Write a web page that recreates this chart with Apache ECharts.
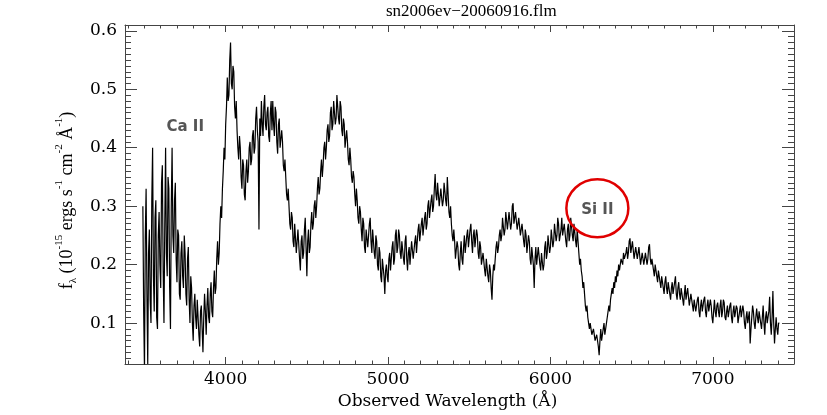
<!DOCTYPE html>
<html>
<head>
<meta charset="utf-8">
<script src="https://cdn.jsdelivr.net/npm/echarts@6/dist/echarts.min.js"></script>
<style>
html,body{margin:0;padding:0;background:#fff;}
#chart{width:827px;height:415px;}
</style>
</head>
<body>
<div id="chart"></div>
<script>
// Spectrum sampling grid (Å)
const lambdaStart = 3490;
const lambdaStep = 5;

// Observed flux (10^-15 erg s^-1 cm^-2 Å^-1), one value per grid step, rows of 100 Å
const flux = [
  0.30, 0.12, 0.02, 0.25, 0.33, 0.15, 0.03, 0.22, 0.26, 0.14, 0.10, 0.31, 0.40, 0.18, 0.12, 0.28, 0.31, 0.11, 0.09, 0.25,
  0.29, 0.20, 0.16, 0.34, 0.37, 0.19, 0.10, 0.27, 0.40, 0.22, 0.18, 0.35, 0.33, 0.16, 0.09, 0.30, 0.40, 0.25, 0.22, 0.31,
  0.34, 0.21, 0.17, 0.26, 0.25, 0.15, 0.14, 0.22, 0.24, 0.18, 0.16, 0.25, 0.22, 0.15, 0.13, 0.21, 0.23, 0.14, 0.10, 0.18,
  0.16, 0.10, 0.07, 0.13, 0.15, 0.11, 0.09, 0.14, 0.14, 0.08, 0.06, 0.12, 0.13, 0.09, 0.05, 0.11, 0.15, 0.12, 0.08, 0.13,
  0.16, 0.11, 0.10, 0.15, 0.17, 0.12, 0.11, 0.16, 0.19, 0.15, 0.16, 0.21, 0.24, 0.20, 0.22, 0.27, 0.30, 0.28, 0.33, 0.36,
  0.40, 0.38, 0.44, 0.47, 0.52, 0.48, 0.49, 0.55, 0.58, 0.51, 0.50, 0.54, 0.53, 0.47, 0.45, 0.48, 0.43, 0.40, 0.38, 0.42,
  0.40, 0.35, 0.33, 0.38, 0.37, 0.32, 0.31, 0.36, 0.38, 0.34, 0.36, 0.40, 0.41, 0.37, 0.38, 0.42, 0.43, 0.39, 0.40, 0.45,
  0.47, 0.43, 0.41, 0.26, 0.45, 0.42, 0.48, 0.44, 0.42, 0.47, 0.49, 0.44, 0.43, 0.46, 0.47, 0.42, 0.41, 0.46, 0.48, 0.43,
  0.48, 0.44, 0.42, 0.47, 0.46, 0.41, 0.39, 0.44, 0.45, 0.40, 0.40, 0.43, 0.41, 0.37, 0.36, 0.38, 0.35, 0.32, 0.31, 0.33,
  0.30, 0.27, 0.26, 0.29, 0.28, 0.24, 0.23, 0.27, 0.27, 0.22, 0.22, 0.26, 0.26, 0.21, 0.19, 0.24, 0.25, 0.21, 0.22, 0.26,
  0.28, 0.23, 0.18, 0.24, 0.26, 0.22, 0.23, 0.27, 0.29, 0.26, 0.27, 0.30, 0.31, 0.28, 0.30, 0.33, 0.35, 0.32, 0.33, 0.36,
  0.38, 0.35, 0.37, 0.40, 0.41, 0.38, 0.40, 0.43, 0.44, 0.41, 0.42, 0.46, 0.47, 0.43, 0.44, 0.48, 0.48, 0.44, 0.45, 0.49,
  0.49, 0.45, 0.44, 0.48, 0.47, 0.43, 0.42, 0.45, 0.44, 0.40, 0.40, 0.43, 0.41, 0.38, 0.37, 0.40, 0.38, 0.35, 0.34, 0.36,
  0.35, 0.32, 0.30, 0.33, 0.31, 0.28, 0.27, 0.30, 0.29, 0.26, 0.24, 0.28, 0.27, 0.23, 0.22, 0.26, 0.26, 0.23, 0.23, 0.27,
  0.28, 0.24, 0.22, 0.26, 0.26, 0.22, 0.21, 0.25, 0.24, 0.20, 0.19, 0.23, 0.22, 0.18, 0.17, 0.21, 0.21, 0.18, 0.15, 0.19,
  0.20, 0.18, 0.17, 0.21, 0.22, 0.19, 0.19, 0.23, 0.24, 0.20, 0.21, 0.25, 0.26, 0.22, 0.23, 0.26, 0.25, 0.22, 0.21, 0.24,
  0.24, 0.21, 0.20, 0.24, 0.25, 0.21, 0.19, 0.22, 0.23, 0.20, 0.20, 0.24, 0.24, 0.21, 0.21, 0.24, 0.25, 0.22, 0.22, 0.26,
  0.27, 0.24, 0.24, 0.27, 0.28, 0.25, 0.25, 0.28, 0.29, 0.26, 0.27, 0.30, 0.31, 0.28, 0.28, 0.31, 0.32, 0.29, 0.30, 0.33,
  0.355, 0.32, 0.31, 0.34, 0.34, 0.30, 0.30, 0.33, 0.33, 0.30, 0.31, 0.34, 0.34, 0.31, 0.30, 0.35, 0.32, 0.29, 0.28, 0.30,
  0.27, 0.25, 0.24, 0.26, 0.24, 0.21, 0.21, 0.24, 0.23, 0.20, 0.19, 0.22, 0.24, 0.21, 0.20, 0.23, 0.25, 0.22, 0.22, 0.25,
  0.26, 0.23, 0.23, 0.26, 0.27, 0.24, 0.22, 0.25, 0.26, 0.23, 0.23, 0.26, 0.25, 0.22, 0.21, 0.24, 0.23, 0.20, 0.20, 0.22,
  0.22, 0.19, 0.18, 0.21, 0.21, 0.18, 0.17, 0.20, 0.19, 0.16, 0.14, 0.18, 0.20, 0.19, 0.21, 0.23, 0.24, 0.22, 0.23, 0.25,
  0.26, 0.24, 0.25, 0.28, 0.28, 0.25, 0.26, 0.29, 0.29, 0.26, 0.26, 0.29, 0.29, 0.26, 0.27, 0.30, 0.305, 0.27, 0.27, 0.29,
  0.29, 0.26, 0.26, 0.28, 0.28, 0.25, 0.25, 0.27, 0.27, 0.24, 0.23, 0.26, 0.25, 0.22, 0.22, 0.25, 0.24, 0.21, 0.20, 0.23,
  0.23, 0.20, 0.16, 0.21, 0.23, 0.20, 0.20, 0.23, 0.23, 0.20, 0.19, 0.22, 0.22, 0.19, 0.20, 0.23, 0.24, 0.21, 0.22, 0.25,
  0.25, 0.22, 0.23, 0.26, 0.26, 0.23, 0.24, 0.27, 0.27, 0.24, 0.25, 0.28, 0.27, 0.24, 0.24, 0.26, 0.28, 0.25, 0.25, 0.27,
  0.27, 0.24, 0.23, 0.26, 0.27, 0.24, 0.25, 0.28, 0.28, 0.25, 0.24, 0.27, 0.27, 0.24, 0.23, 0.26, 0.24, 0.22, 0.20, 0.21,
  0.19, 0.18, 0.16, 0.17, 0.15, 0.13, 0.12, 0.13, 0.11, 0.10, 0.09, 0.10, 0.10, 0.08, 0.08, 0.09, 0.09, 0.07, 0.07, 0.08,
  0.08, 0.06, 0.045, 0.07, 0.09, 0.07, 0.08, 0.09, 0.10, 0.08, 0.08, 0.10, 0.11, 0.12, 0.13, 0.12, 0.14, 0.15, 0.16, 0.15,
  0.17, 0.16, 0.18, 0.17, 0.19, 0.18, 0.20, 0.19, 0.20, 0.21, 0.21, 0.20, 0.22, 0.21, 0.21, 0.22, 0.23, 0.21, 0.22, 0.24,
  0.245, 0.22, 0.22, 0.24, 0.24, 0.21, 0.21, 0.23, 0.23, 0.21, 0.21, 0.23, 0.23, 0.20, 0.20, 0.22, 0.22, 0.20, 0.20, 0.22,
  0.22, 0.20, 0.21, 0.23, 0.235, 0.21, 0.20, 0.21, 0.21, 0.19, 0.18, 0.20, 0.20, 0.18, 0.17, 0.19, 0.19, 0.17, 0.16, 0.18,
  0.18, 0.16, 0.15, 0.17, 0.18, 0.16, 0.15, 0.17, 0.17, 0.15, 0.14, 0.16, 0.17, 0.15, 0.15, 0.17, 0.18, 0.15, 0.14, 0.16,
  0.17, 0.15, 0.14, 0.16, 0.16, 0.14, 0.13, 0.15, 0.165, 0.14, 0.14, 0.16, 0.16, 0.13, 0.13, 0.15, 0.15, 0.13, 0.12, 0.14,
  0.14, 0.12, 0.12, 0.14, 0.145, 0.12, 0.11, 0.13, 0.14, 0.12, 0.12, 0.14, 0.145, 0.12, 0.11, 0.13, 0.14, 0.12, 0.12, 0.14,
  0.13, 0.11, 0.10, 0.12, 0.14, 0.12, 0.11, 0.13, 0.135, 0.12, 0.11, 0.13, 0.14, 0.11, 0.12, 0.14, 0.135, 0.11, 0.105, 0.12,
  0.13, 0.11, 0.11, 0.13, 0.135, 0.11, 0.10, 0.12, 0.13, 0.11, 0.11, 0.13, 0.125, 0.10, 0.10, 0.12, 0.13, 0.11, 0.11, 0.13,
  0.12, 0.10, 0.09, 0.11, 0.12, 0.10, 0.10, 0.12, 0.065, 0.09, 0.11, 0.13, 0.12, 0.10, 0.09, 0.11, 0.125, 0.11, 0.10, 0.12,
  0.12, 0.10, 0.09, 0.11, 0.13, 0.10, 0.08, 0.11, 0.12, 0.10, 0.10, 0.12, 0.145, 0.10, 0.08, 0.11, 0.155, 0.10, 0.065, 0.09,
  0.11, 0.09, 0.08, 0.10, 0.10
];

// Axis ranges and text
const xRange = [3380, 7500];
const yRange = [0.03, 0.61];
const titleText = 'sn2006ev\u221220060916.flm';
const xTitle = 'Observed Wavelength (\u00c5)';

// Line identifications (data coordinates)
const lineLabels = [
  { text: 'Ca II', at: [3751, 0.436], circle: false },
  { text: 'Si II', at: [6289, 0.293], circle: true }
];

const seriesData = flux.map((v, i) => [lambdaStart + i * lambdaStep, v]);

const chart = echarts.init(document.getElementById('chart'), null, { renderer: 'canvas' });

const frameColor = '#444';
const tickFont = { fontFamily: 'DejaVu Serif', fontSize: 17, color: '#000' };

function xAxisDef(pos, showLabels) {
  return {
    type: 'value', position: pos, min: xRange[0], max: xRange[1], splitNumber: 4,
    axisLine: { show: true, onZero: false, lineStyle: { color: frameColor, width: 1 } },
    axisTick: { show: true, inside: true, length: 7, lineStyle: { color: frameColor } },
    minorTick: { show: true, splitNumber: 10, length: 3.5, lineStyle: { color: frameColor } },
    splitLine: { show: false },
    axisLabel: Object.assign({ show: showLabels, margin: 7, showMinLabel: false, showMaxLabel: false,
      formatter: v => String(v) }, tickFont),
    name: showLabels ? xTitle : '',
    nameLocation: 'middle', nameGap: 24,
    nameTextStyle: { fontFamily: 'DejaVu Serif', fontSize: 17, color: '#000', padding: [0, 24, 0, 0] }
  };
}
function yAxisDef(pos, showLabels) {
  return {
    type: 'value', position: pos, min: yRange[0], max: yRange[1], splitNumber: 6,
    axisLine: { show: true, onZero: false, lineStyle: { color: frameColor, width: 1 } },
    axisTick: { show: true, inside: true, length: 12, lineStyle: { color: frameColor } },
    minorTick: { show: true, splitNumber: 10, length: 6, lineStyle: { color: frameColor } },
    splitLine: { show: false },
    axisLabel: Object.assign({ show: showLabels, margin: 8, showMinLabel: false, showMaxLabel: false }, tickFont),
    name: showLabels ? '{t|f}{sub|\u03bb}{t| (10}{sup|-15}{t| ergs s}{sup|-1}{t| cm}{sup|-2}{t| \u00c5}{sup|-1}{t|)}' : '',
    nameLocation: 'middle', nameGap: 45, nameRotate: 90,
    nameTextStyle: {
      padding: [0, 12, 0, 0],
      rich: {
        t: { fontFamily: 'Liberation Serif', fontSize: 18, color: '#000', lineHeight: 22, verticalAlign: 'bottom' },
        sup: { fontFamily: 'Liberation Serif', fontSize: 11, color: '#000', lineHeight: 22, verticalAlign: 'top' },
        sub: { fontFamily: 'Liberation Serif', fontSize: 11, color: '#000', lineHeight: 22, verticalAlign: 'bottom', padding: [0, 0, -3, 0] }
      }
    }
  };
}

chart.setOption({
  animation: false,
  backgroundColor: '#fff',
  title: {
    text: titleText, left: 381, top: -2,
    textStyle: { fontFamily: 'Liberation Serif', fontSize: 17, fontWeight: 'normal', color: '#000' }
  },
  grid: { left: 125, right: 33, top: 25, bottom: 51, containLabel: false },
  xAxis: [xAxisDef('bottom', true), xAxisDef('top', false)],
  yAxis: [yAxisDef('left', true), yAxisDef('right', false)],
  series: [{
    type: 'line', xAxisIndex: 0, yAxisIndex: 0,
    data: seriesData, showSymbol: false, symbol: 'none',
    lineStyle: { color: '#000', width: 1.2 },
    clip: true, silent: true
  }]
});

// place line identification labels via the axes' own scales
const graphics = [];
lineLabels.forEach(l => {
  const p = chart.convertToPixel({ xAxisIndex: 0, yAxisIndex: 0 }, l.at);
  graphics.push({
    type: 'text', x: p[0], y: p[1], z: 10,
    style: { text: l.text, fill: '#555', font: 'bold 15px "DejaVu Sans"', align: 'center', verticalAlign: 'middle' }
  });
  if (l.circle) {
    graphics.push({
      type: 'ellipse', z: 10,
      shape: { cx: p[0], cy: p[1] - 2, rx: 31, ry: 29 },
      style: { fill: 'none', stroke: '#e00000', lineWidth: 2.5 }
    });
  }
});
chart.setOption({ graphic: graphics });
</script>
</body>
</html>
